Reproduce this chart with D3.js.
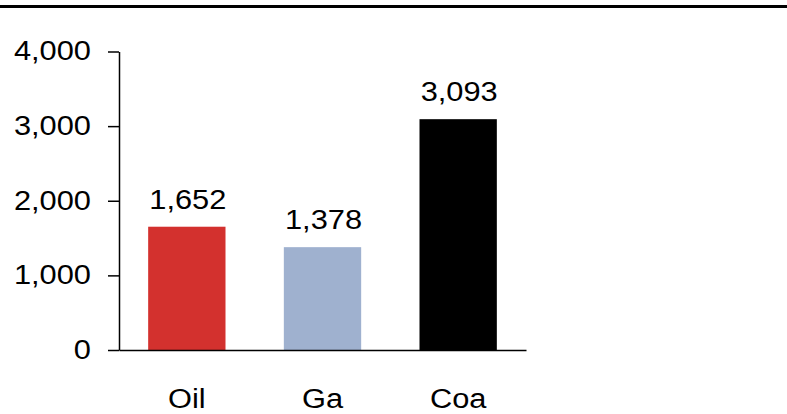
<!DOCTYPE html>
<html>
<head>
<meta charset="utf-8">
<script src="https://cdn.jsdelivr.net/npm/d3@7"></script>
<style>
  body { margin: 0; background: #fff; }
  svg text { font-family: "Liberation Sans", Arial, sans-serif; fill: #000; }
</style>
</head>
<body>
<div id="chart"></div>
<script>
var categories = ['Oil', 'Ga', 'Coa'];
var values = [1652, 1378, 3093];
var colors = ['#d3312e', '#9fb1cf', '#000000'];
var yTicks = [0, 1000, 2000, 3000, 4000];

var width = 787, height = 414;
var stretch = 'scale(1.1,1)';
var fontSize = 28;

var svg = d3.select('#chart').append('svg')
    .attr('width', width)
    .attr('height', height);

// top rule
svg.append('line')
    .attr('x1', 0).attr('x2', width)
    .attr('y1', 6.5).attr('y2', 6.5)
    .attr('stroke', '#000')
    .attr('stroke-width', 3);

var x = d3.scaleBand()
    .domain(categories)
    .range([119, 526])
    .paddingInner(0.43)
    .paddingOuter(0.215);

var y = d3.scaleLinear()
    .domain([0, 4000])
    .range([350, 51.5]);

// bars
svg.selectAll('rect.bar')
    .data(values)
    .enter().append('rect')
    .attr('class', 'bar')
    .attr('x', function(d, i) { return x(categories[i]); })
    .attr('width', x.bandwidth())
    .attr('y', function(d) { return y(d); })
    .attr('height', function(d) { return y(0) - y(d); })
    .attr('fill', function(d, i) { return colors[i]; });

// y axis
var yAxis = svg.append('g')
    .attr('transform', 'translate(119,0)')
    .call(d3.axisLeft(y).tickValues(yTicks).tickSize(11).tickSizeOuter(0).tickFormat(d3.format(',')));
yAxis.selectAll('path, line').attr('stroke', '#000').attr('stroke-width', 1.5);
yAxis.selectAll('text')
    .attr('x', 0).attr('dy', '0.3em')
    .attr('transform', 'translate(-28,0) ' + stretch)
    .style('font-size', fontSize + 'px');

// x axis
var xAxis = svg.append('g')
    .attr('transform', 'translate(0,350)')
    .call(d3.axisBottom(x).tickSize(0).tickSizeOuter(0));
xAxis.select('path').attr('stroke', '#000').attr('stroke-width', 1.5);
xAxis.selectAll('text')
    .attr('y', 0).attr('dy', 0)
    .attr('transform', 'translate(0,58) ' + stretch)
    .style('font-size', fontSize + 'px');

// value labels
svg.selectAll('text.val')
    .data(values)
    .enter().append('text')
    .attr('class', 'val')
    .attr('text-anchor', 'middle')
    .attr('transform', function(d, i) {
        return 'translate(' + (x(categories[i]) + x.bandwidth() / 2 + 1) + ',' + (y(d) - 18) + ') ' + stretch;
    })
    .style('font-size', fontSize + 'px')
    .text(d3.format(','));
</script>
</body>
</html>
